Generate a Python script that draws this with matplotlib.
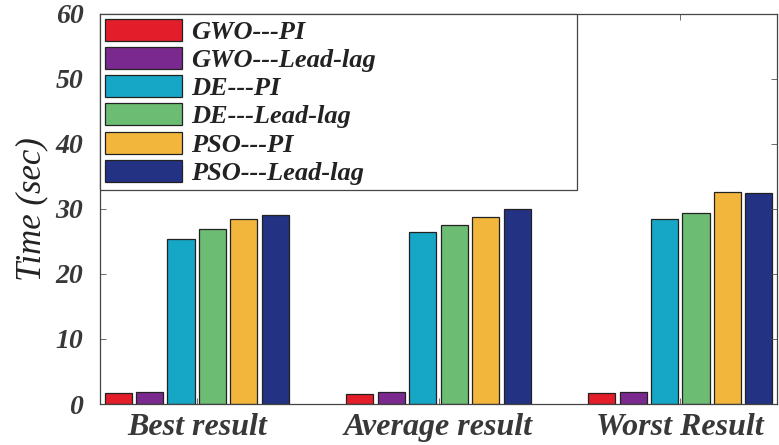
import matplotlib
matplotlib.use("Agg")
import matplotlib.pyplot as plt
import numpy as np

categories = ["Best result", "Average result", "Worst Result"]
series_labels = ["GWO---PI", "GWO---Lead-lag", "DE---PI", "DE---Lead-lag", "PSO---PI", "PSO---Lead-lag"]
gwo_pi = [1.65, 1.6, 1.65]
gwo_leadlag = [1.8, 1.8, 1.8]
de_pi = [25.3, 26.4, 28.4]
de_leadlag = [26.9, 27.5, 29.3]
pso_pi = [28.4, 28.7, 32.6]
pso_leadlag = [29.1, 30.0, 32.4]
yticks = [0, 10, 20, 30, 40, 50, 60]

series = [gwo_pi, gwo_leadlag, de_pi, de_leadlag, pso_pi, pso_leadlag]
colors = ["#e31e2a", "#7a2a8e", "#17a7c6", "#6cbc74", "#f2b63c", "#243283"]

fig = plt.figure(figsize=(7.79, 4.45), dpi=100)
ax = fig.add_axes([100/779, 1-404/445, 677/779, (404-13.5)/445])

x = np.arange(1, len(categories)+1)
slot = 0.13
width = 0.112
for i, (vals, lab, c) in enumerate(zip(series, series_labels, colors)):
    ax.bar(x + (i - 2.5)*slot, vals, width, color=c, edgecolor="#222222", linewidth=0.9, label=lab)

ax.set_xlim(0.6, 3.4)
ax.set_ylim(0, 60)
ax.set_yticks(yticks)
ax.set_xticks(x)
tcol = "#383838"
ax.set_xticklabels(categories, fontsize=23, fontweight="bold", fontstyle="italic",
                   family="Liberation Serif", color=tcol)
ax.set_yticklabels([str(v) for v in yticks], fontsize=20, fontweight="bold", fontstyle="italic",
                   family="Liberation Serif", color=tcol)
ax.tick_params(axis="both", direction="in", length=4, width=0.6, color="#555555",
               top=True, right=True)
ax.tick_params(axis="y", pad=12)
ax.tick_params(axis="x", pad=6.5)
for s in ax.spines.values():
    s.set_color("#444444")
    s.set_linewidth(0.9)
ax.set_ylabel("Time (sec)", fontsize=25, fontstyle="italic", family="Liberation Serif",
              color="#222222", labelpad=5)

leg = ax.legend(loc="upper left", bbox_to_anchor=(0, 1, 477/677, 0), mode="expand",
                prop={"family": "Liberation Serif", "weight": "bold", "style": "italic", "size": 19},
                handlelength=2.9, handleheight=0.9, labelspacing=0.12, handletextpad=0.35,
                borderaxespad=0, borderpad=0.2, fancybox=False, framealpha=1)
leg.get_frame().set_edgecolor("#444444")
leg.get_frame().set_linewidth(0.9)
for t in leg.get_texts():
    t.set_color("#222222")

fig.savefig("out.png", dpi=100)
